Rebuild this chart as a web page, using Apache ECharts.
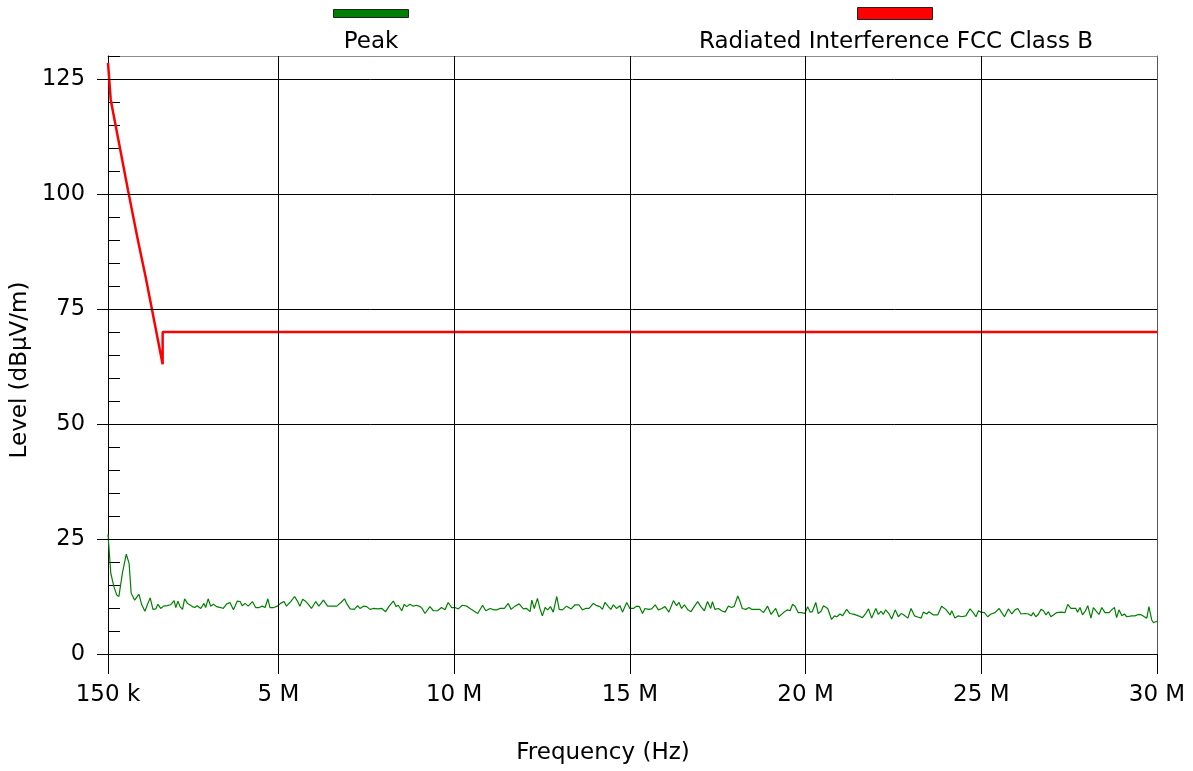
<!DOCTYPE html>
<html>
<head>
<meta charset="utf-8">
<title>Radiated emission scan</title>
<script src="https://cdn.jsdelivr.net/npm/echarts@6/dist/echarts.min.js"></script>
<style>
  html, body { margin: 0; padding: 0; background: #ffffff; }
  #chart { width: 1193px; height: 771px; }
</style>
</head>
<body>
<div id="chart"></div>
<script>
// Peak detector trace: frequency (MHz) and level (dBµV/m)
const peakFreqMHz = [
  0.15, 0.23, 0.32, 0.40, 0.46, 0.56, 0.67, 0.75, 0.81, 0.91, 1.03, 1.11, 1.20, 1.27, 1.35, 1.43,
  1.51, 1.57, 1.65, 1.73, 1.84, 1.93, 2.03, 2.08, 2.14, 2.20, 2.27, 2.33, 2.41, 2.48, 2.55, 2.62,
  2.69, 2.79, 2.88, 2.93, 3.00, 3.07, 3.15, 3.24, 3.36, 3.43, 3.53, 3.62, 3.72, 3.83, 3.91, 3.97,
  4.05, 4.14, 4.26, 4.35, 4.45, 4.54, 4.62, 4.70, 4.76, 4.87, 4.97, 5.06, 5.16, 5.23, 5.35, 5.46,
  5.54, 5.61, 5.69, 5.78, 5.84, 5.94, 5.99, 6.06, 6.15,
  6.28, 6.40, 6.51, 6.66, 6.78, 6.88, 6.94, 7.04, 7.16, 7.25, 7.32, 7.42, 7.51, 7.61, 7.70, 7.84,
  7.94, 7.98, 8.05, 8.15, 8.27, 8.35, 8.41, 8.51, 8.58, 8.65, 8.74, 8.84, 8.93, 9.03, 9.09, 9.17,
  9.31, 9.41, 9.53, 9.64, 9.74, 9.83, 9.93, 10.02, 10.12, 10.23, 10.36, 10.45, 10.55, 10.67, 10.81,
  10.90, 11.02, 11.14, 11.21, 11.30, 11.43, 11.54, 11.62, 11.73, 11.85, 11.97, 12.06, 12.16,
  12.21, 12.28, 12.37, 12.44, 12.51, 12.59, 12.66, 12.74, 12.82, 12.92, 12.99, 13.08, 13.20, 13.33,
  13.44, 13.55, 13.65, 13.74, 13.84, 13.96, 14.06, 14.15, 14.22, 14.29, 14.39, 14.46, 14.53, 14.62,
  14.72, 14.79, 14.91, 15.00, 15.10, 15.19, 15.27, 15.36, 15.43, 15.53, 15.62, 15.72, 15.81, 15.91,
  16.00, 16.11, 16.24, 16.33, 16.40, 16.47, 16.55, 16.65, 16.74, 16.83, 16.93, 17.02, 17.12, 17.21,
  17.30, 17.35, 17.42, 17.52, 17.61, 17.71, 17.80, 17.90, 17.97, 18.07, 18.13,
  18.20, 18.30, 18.39, 18.47, 18.58, 18.70, 18.80, 18.92, 19.02, 19.15, 19.24, 19.37, 19.49, 19.56,
  19.63, 19.70, 19.79, 19.89, 19.98, 20.06, 20.13, 20.19, 20.29, 20.36, 20.44, 20.51, 20.63, 20.74,
  20.82, 20.89, 20.98, 21.05, 21.17, 21.26, 21.39, 21.50, 21.62, 21.71, 21.79, 21.88, 22.00, 22.07,
  22.15, 22.21, 22.28, 22.37, 22.45, 22.55, 22.64, 22.72, 22.78, 22.91, 23.00, 23.10, 23.21, 23.29,
  23.35, 23.45, 23.51, 23.64, 23.76, 23.87, 23.99, 24.11,
  24.16, 24.25, 24.35, 24.44, 24.56, 24.68, 24.77, 24.85, 24.92, 24.99, 25.09, 25.18, 25.28, 25.39,
  25.51, 25.58, 25.66, 25.77, 25.87, 25.96, 26.04, 26.13, 26.24, 26.34, 26.42, 26.48, 26.55, 26.62,
  26.70, 26.77, 26.84, 26.91, 26.98, 27.05, 27.15, 27.27, 27.38, 27.46, 27.55, 27.69, 27.74, 27.81,
  27.88, 27.95, 28.03, 28.12, 28.19, 28.28, 28.35, 28.43, 28.52, 28.64, 28.71, 28.79, 28.85, 28.92,
  29.00, 29.07, 29.14, 29.19, 29.28, 29.37, 29.47, 29.56, 29.64, 29.71, 29.77, 29.85, 29.90, 29.96,
  30.00
];
const peakLevel = [
  26.0, 17.5, 14.6, 12.8, 12.5, 17.6, 21.7, 19.7, 13.2, 11.7, 13.0, 10.7, 9.3, 10.7, 12.2, 9.7,
  9.8, 10.8, 9.9, 10.4, 10.5, 10.7, 11.6, 10.1, 11.5, 10.3, 9.7, 12.0, 11.0, 10.7, 10.3, 10.1,
  10.5, 9.9, 11.0, 10.1, 12.0, 10.4, 10.8, 10.3, 10.1, 9.9, 10.9, 11.2, 9.6, 11.5, 11.4, 10.5,
  11.0, 10.4, 11.4, 10.1, 10.1, 10.4, 10.1, 12.0, 10.1, 10.1, 10.4, 11.0, 11.4, 10.4, 11.4, 12.5,
  11.5, 10.4, 11.9, 11.4, 10.9, 9.9, 10.3, 11.4, 10.4,
  11.7, 10.4, 10.4, 10.4, 11.2, 12.0, 11.0, 9.8, 9.7, 10.5, 9.9, 10.4, 10.3, 9.7, 9.9, 9.8,
  9.9, 10.1, 9.2, 10.4, 11.5, 10.3, 10.6, 9.4, 10.8, 10.3, 10.8, 10.4, 10.6, 10.3, 9.9, 8.8,
  10.3, 9.4, 9.4, 10.1, 9.6, 11.2, 10.1, 10.1, 9.8, 10.6, 10.4, 9.9, 9.4, 8.8, 10.6,
  9.4, 9.9, 9.6, 9.6, 9.9, 9.9, 11.0, 9.7, 10.4, 10.9, 9.8, 9.9, 9.2,
  11.7, 9.9, 12.1, 9.9, 8.3, 10.1, 9.6, 10.3, 9.1, 12.5, 9.7, 9.6, 10.4, 9.8,
  10.7, 10.7, 9.6, 9.9, 9.9, 11.0, 10.5, 10.3, 9.7, 11.2, 10.3, 9.7, 10.7, 9.9,
  10.5, 9.1, 11.2, 9.9, 9.9, 10.4, 10.3, 8.8, 9.9, 9.7, 9.8, 10.7, 9.6, 9.9,
  10.3, 9.1, 11.6, 10.5, 11.2, 9.9, 10.7, 9.6, 9.2, 10.3, 11.4, 10.3, 9.4, 11.4,
  9.9, 11.4, 9.7, 9.9, 9.4, 9.1, 10.4, 10.1, 10.4, 12.6, 11.5,
  9.9, 9.7, 10.1, 9.7, 9.7, 9.7, 9.0, 10.4, 8.6, 9.9, 8.1, 9.0, 9.6, 9.4,
  10.8, 10.4, 9.0, 9.0, 8.8, 10.3, 9.1, 9.2, 11.2, 8.8, 9.3, 10.5, 9.9, 7.5,
  8.3, 8.1, 8.7, 8.3, 9.7, 8.8, 8.6, 8.3, 7.9, 8.8, 9.8, 7.8, 9.9, 8.6,
  9.3, 8.6, 9.6, 8.8, 7.6, 9.6, 8.1, 8.8, 8.6, 7.8, 9.9, 8.3, 8.0, 7.8,
  9.1, 8.7, 9.2, 8.5, 8.5, 10.4, 9.7, 8.5,
  9.4, 7.8, 8.3, 8.1, 8.3, 9.8, 9.0, 8.1, 9.4, 9.1, 9.0, 8.1, 8.7, 9.0,
  9.9, 9.0, 8.1, 9.8, 8.7, 9.6, 9.9, 8.7, 8.8, 8.7, 8.3, 9.0, 8.1, 8.6,
  9.7, 9.4, 8.5, 9.2, 8.1, 8.5, 9.0, 9.1, 9.0, 10.8, 9.9, 9.9, 9.1, 10.1,
  8.5, 9.2, 10.5, 7.8, 10.1, 9.2, 8.6, 10.1, 9.0, 9.0, 9.6, 10.1, 7.9, 9.6,
  8.3, 8.7, 8.1, 7.8, 8.3, 8.3, 8.6, 8.5, 8.1, 7.8, 10.3, 7.4, 6.8, 7.0,
  7.1
];

// Limit line: frequency (MHz) and level (dBµV/m)
const limitFreqMHz = [0.15, 0.18, 0.227, 0.49, 0.72, 1.00, 1.22, 1.374, 1.705, 1.705, 30.0];
const limitLevel = [128.5, 125.5, 120.5, 110.0, 100.8, 90.0, 82.0, 76.0, 63.0, 70.0, 70.0];

// Axis ticks
const xTickValues = [0.15, 5, 10, 15, 20, 25, 30];
const xGridValues = [5, 10, 15, 20, 25];
const yTickValues = [0, 25, 50, 75, 100, 125];
const yGridValues = [25, 50, 75, 100, 125];

const FONT = 'DejaVu Sans';
const xMin = 0.15, xMax = 30, yMin = 0, yMax = 130;

function fmtFreq(v) {
  if (v < 1) return Math.round(v * 1000) + ' k';
  return Math.round(v) + ' M';
}

const peakData = peakFreqMHz.map((f, i) => [f, peakLevel[i]]);
const limitData = limitFreqMHz.map((f, i) => [f, limitLevel[i]]);

const gridLines = xGridValues.map(v => ({ xAxis: v }))
  .concat(yGridValues.map(v => ({ yAxis: v })));

const chart = echarts.init(document.getElementById('chart'), null, { renderer: 'canvas' });

chart.setOption({
  animation: false,
  backgroundColor: '#ffffff',
  textStyle: { fontFamily: FONT },
  grid: { left: 108, right: 36, top: 56, bottom: 117, containLabel: false },
  xAxis: [
    {
      type: 'value',
      min: xMin,
      max: xMax,
      position: 'bottom',
      name: 'Frequency (Hz)',
      nameLocation: 'middle',
      nameGap: 88,
      nameTextStyle: { fontFamily: FONT, fontSize: 23, color: '#000', padding: [0, 59, 0, 0] },
      axisLine: { show: true, onZero: false, lineStyle: { color: '#000', width: 1 } },
      axisTick: { show: true, inside: false, length: 20, customValues: xTickValues, lineStyle: { color: '#000', width: 1 } },
      axisLabel: { show: true, customValues: xTickValues, margin: 30, formatter: fmtFreq,
        fontFamily: FONT, fontSize: 23, color: '#000' },
      splitLine: { show: false }
    },
    {
      type: 'value',
      min: xMin,
      max: xMax,
      position: 'top',
      axisLine: { show: true, onZero: false, lineStyle: { color: '#8c8c8c', width: 1 } },
      axisTick: { show: false },
      axisLabel: { show: false },
      splitLine: { show: false }
    }
  ],
  yAxis: [
    {
      type: 'value',
      min: yMin,
      max: yMax,
      position: 'left',
      name: 'Level (dBµV/m)',
      nameLocation: 'middle',
      nameRotate: 90,
      nameGap: 75,
      nameTextStyle: { fontFamily: FONT, fontSize: 23, color: '#000', padding: [0, 30, 0, 0] },
      axisLine: { show: true, onZero: false, lineStyle: { color: '#000', width: 1 } },
      axisTick: { show: true, inside: false, length: 11, customValues: yTickValues, lineStyle: { color: '#000', width: 1 } },
      axisLabel: { show: true, customValues: yTickValues, margin: 23,
        fontFamily: FONT, fontSize: 22.5, color: '#000' },
      splitLine: { show: false }
    },
    {
      type: 'value',
      min: yMin,
      max: yMax,
      interval: 5,
      position: 'left',
      axisLine: { show: false },
      axisTick: { show: true, inside: true, length: 12, lineStyle: { color: '#000', width: 1 } },
      axisLabel: { show: false },
      splitLine: { show: false }
    },
    {
      type: 'value',
      min: yMin,
      max: yMax,
      position: 'right',
      axisLine: { show: true, onZero: false, lineStyle: { color: '#555', width: 1 } },
      axisTick: { show: false },
      axisLabel: { show: false },
      splitLine: { show: false }
    }
  ],
  series: [
    {
      name: 'Peak',
      type: 'line',
      xAxisIndex: 0,
      yAxisIndex: 0,
      data: peakData,
      showSymbol: false,
      symbol: 'none',
      z: 3,
      lineStyle: { color: '#008000', width: 1.2 },
      markLine: {
        silent: true,
        symbol: 'none',
        label: { show: false },
        lineStyle: { color: '#000', width: 1, type: 'solid' },
        emphasis: { disabled: true },
        data: gridLines
      }
    },
    {
      name: 'Radiated Interference FCC Class B',
      type: 'line',
      xAxisIndex: 0,
      yAxisIndex: 0,
      data: limitData,
      showSymbol: false,
      symbol: 'none',
      z: 4,
      lineStyle: { color: '#ff0000', width: 2.5 }
    }
  ],
  graphic: [
    { type: 'rect', left: 333, top: 9, shape: { width: 75, height: 8 },
      style: { fill: '#008000', stroke: '#222', lineWidth: 1 } },
    { type: 'text', x: 371, y: 42,
      style: { text: 'Peak', font: '23px "DejaVu Sans"', fill: '#000', align: 'center', verticalAlign: 'middle' } },
    { type: 'rect', left: 857, top: 7, shape: { width: 75, height: 12 },
      style: { fill: '#ff0000', stroke: '#222', lineWidth: 1 } },
    { type: 'text', x: 896, y: 42,
      style: { text: 'Radiated Interference FCC Class B', font: '23px "DejaVu Sans"', fill: '#000', align: 'center', verticalAlign: 'middle' } }
  ]
});
</script>
</body>
</html>
